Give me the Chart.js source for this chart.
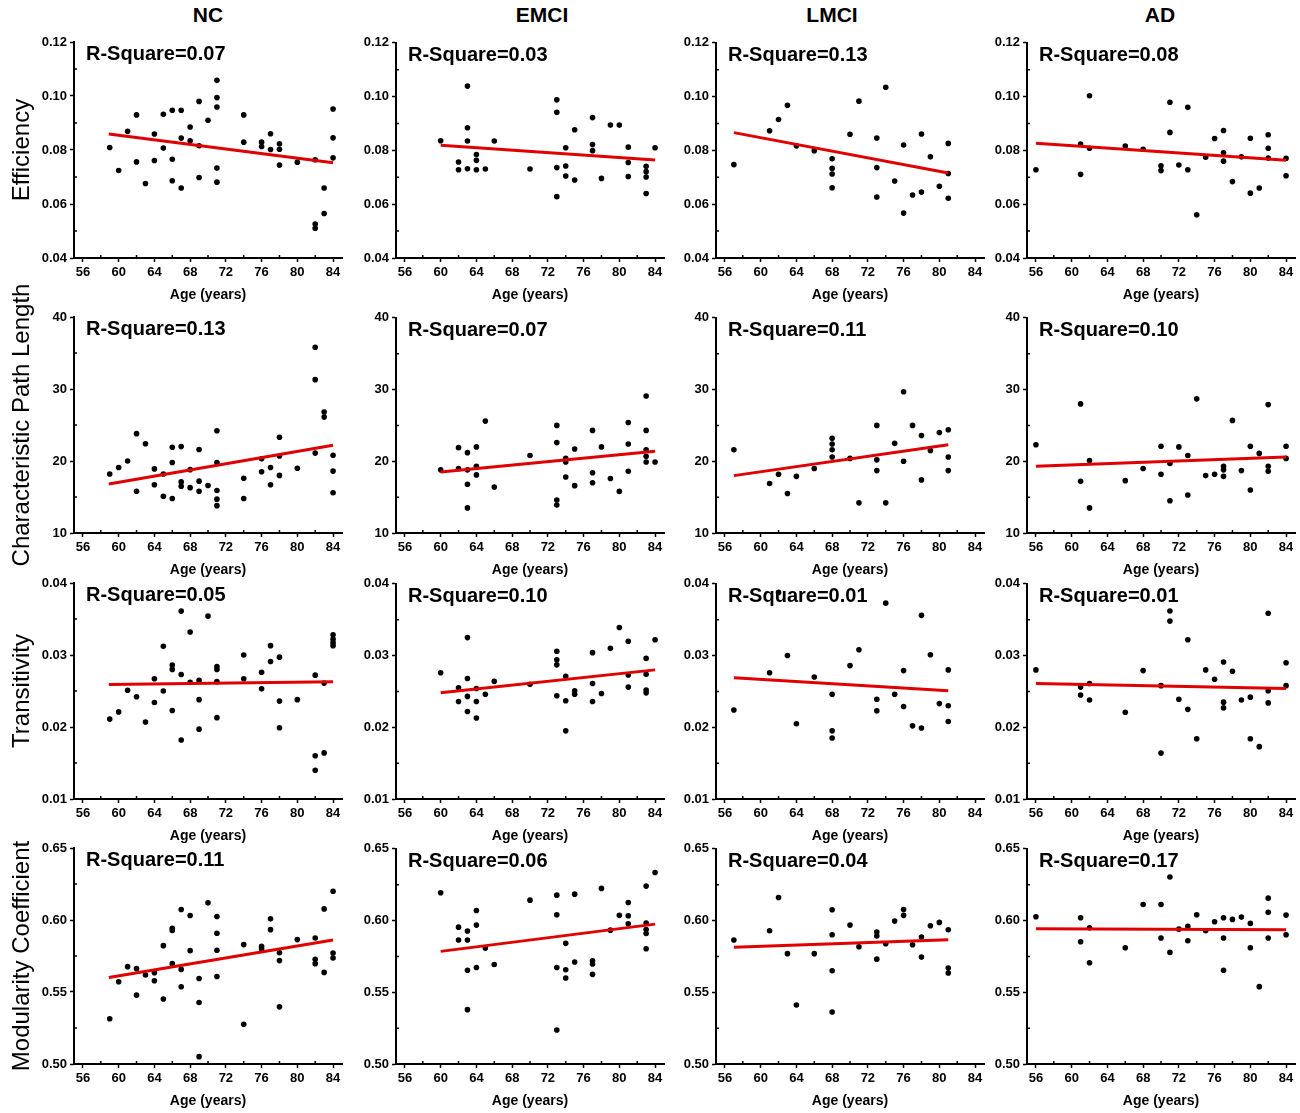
<!DOCTYPE html>
<html>
<head>
<meta charset="utf-8">
<script src="https://cdn.jsdelivr.net/npm/chart.js@4.4.1/dist/chart.umd.min.js"></script>
<style>
  body { margin: 0; background: #fff; }
  #page { position: relative; width: 1300px; height: 1113px; overflow: hidden; }
  #page canvas { position: absolute; }
  .col-title { position: absolute; top: 3px; width: 120px; margin-left: -60px; text-align: center;
    font: bold 21px "Liberation Sans", Arial, sans-serif; line-height: 24px; color: #000; }
</style>
</head>
<body>
<div id="page"></div>
<script>
const groups = ["NC", "EMCI", "LMCI", "AD"];
const metrics = ["Efficiency", "Characteristic Path Length", "Transitivity", "Modularity Coefficient"];
const ageTicks = [56, 60, 64, 68, 72, 76, 80, 84];
const ageMinor = [58, 62, 66, 70, 74, 78, 82];

const effTicks = [0.04, 0.06, 0.08, 0.10, 0.12];
const cplTicks = [10, 20, 30, 40];
const transTicks = [0.01, 0.02, 0.03, 0.04];
const modTicks = [0.50, 0.55, 0.60, 0.65];

const effR2 = [0.07, 0.03, 0.13, 0.08];
const cplR2 = [0.13, 0.07, 0.11, 0.10];
const transR2 = [0.05, 0.10, 0.01, 0.01];
const modR2 = [0.11, 0.06, 0.04, 0.17];

// [age, value] per panel
const ncEff = [[59,.0809],[60,.0724],[61,.0869],[62,.0930],[62,.0756],[63,.0676],[64,.0859],[64,.0761],[65,.0932],[65,.0807],[66,.0947],[66,.0766],[66,.0686],[67,.0947],[67,.0844],[67,.0659],[68,.0885],[68,.0834],[69,.0980],[69,.0816],[69,.0698],[70,.0910],[71,.1058],[71,.0994],[71,.0959],[71,.0733],[71,.0681],[74,.0930],[74,.0829],[76,.0829],[76,.0813],[77,.0860],[77,.0802],[78,.0823],[78,.0803],[78,.0744],[80,.0755],[82,.0764],[82,.0526],[82,.0510],[83,.0659],[83,.0565],[84,.0952],[84,.0845],[84,.0771]];
const emciEff = [[60,.0836],[62,.0757],[62,.0728],[63,.1039],[63,.0884],[63,.0835],[63,.0732],[64,.0785],[64,.0763],[64,.0728],[65,.0731],[66,.0835],[70,.0731],[73,.0988],[73,.0942],[73,.0736],[73,.0628],[74,.0810],[74,.0742],[74,.0705],[75,.0877],[75,.0690],[77,.0922],[77,.0822],[77,.0799],[78,.0696],[79,.0894],[80,.0894],[81,.0812],[81,.0755],[81,.0703],[83,.0741],[83,.0721],[83,.0701],[83,.0640],[84,.0810]];
const lmciEff = [[57,.0747],[61,.0873],[62,.0915],[63,.0968],[64,.0817],[66,.0799],[68,.0769],[68,.0733],[68,.0712],[68,.0661],[70,.0860],[71,.0983],[73,.0846],[73,.0736],[73,.0627],[74,.1035],[75,.0686],[76,.0820],[76,.0567],[77,.0634],[78,.0861],[78,.0645],[79,.0776],[80,.0667],[81,.0826],[81,.0714],[81,.0622]];
const adEff = [[56,.0728],[61,.0824],[61,.0711],[62,.1003],[62,.0808],[66,.0816],[68,.0804],[70,.0743],[70,.0725],[71,.0979],[71,.0867],[72,.0746],[73,.0960],[73,.0728],[74,.0561],[75,.0775],[76,.0844],[77,.0874],[77,.0791],[77,.0760],[78,.0684],[79,.0776],[80,.0845],[80,.0641],[81,.0660],[82,.0858],[82,.0808],[82,.0772],[84,.0771],[84,.0706]];

const ncCpl = [[59,18.2],[60,19.1],[61,20.0],[62,23.8],[62,15.8],[63,22.4],[64,18.9],[64,16.7],[65,18.2],[65,15.1],[66,21.9],[66,19.8],[66,14.8],[67,22.0],[67,17.1],[67,16.5],[68,18.8],[68,16.3],[69,21.6],[69,17.2],[69,15.8],[70,16.6],[71,24.2],[71,19.8],[71,15.9],[71,14.7],[71,13.8],[74,17.6],[74,14.8],[76,20.3],[76,18.5],[77,19.1],[77,16.7],[78,23.3],[78,20.7],[78,18.0],[80,19.0],[82,35.8],[82,31.3],[82,21.1],[83,26.8],[83,26.1],[84,20.8],[84,18.6],[84,15.6]];
const emciCpl = [[60,18.8],[62,21.9],[62,19.0],[63,21.2],[63,18.8],[63,16.8],[63,13.5],[64,22.0],[64,19.3],[64,18.1],[65,25.6],[66,16.4],[70,20.8],[73,25.0],[73,22.6],[73,14.6],[73,13.9],[74,20.4],[74,19.9],[74,17.8],[75,21.7],[75,16.6],[77,24.3],[77,18.4],[77,17.0],[78,22.0],[79,17.6],[80,15.8],[81,25.4],[81,22.4],[81,18.6],[83,29.1],[83,24.3],[83,21.6],[83,20.7],[83,19.9],[84,19.9]];
const lmciCpl = [[57,21.6],[61,16.9],[62,18.2],[63,15.5],[64,17.9],[66,19.0],[68,23.2],[68,22.4],[68,21.6],[68,20.6],[70,20.4],[71,14.2],[73,25.0],[73,20.2],[73,18.7],[74,14.2],[75,22.5],[76,29.7],[76,20.0],[77,25.0],[78,23.6],[78,17.4],[79,21.5],[80,24.0],[81,24.4],[81,20.6],[81,18.7]];
const adCpl = [[56,22.3],[61,28.0],[61,17.2],[62,20.1],[62,13.5],[66,17.3],[68,19.0],[70,22.1],[70,18.2],[71,19.7],[71,14.5],[72,22.0],[73,20.8],[73,15.3],[74,28.7],[75,18.0],[76,18.2],[77,19.3],[77,18.8],[77,17.9],[78,25.7],[79,18.7],[80,22.1],[80,16.0],[81,21.1],[82,27.9],[82,19.3],[82,18.6],[84,22.1],[84,20.4]];

const ncTrans = [[59,.0211],[60,.0221],[61,.0251],[62,.0242],[63,.0207],[64,.0267],[64,.0234],[65,.0312],[65,.0250],[66,.0286],[66,.0280],[66,.0223],[67,.0361],[67,.0273],[67,.0182],[68,.0332],[68,.0262],[69,.0265],[69,.0238],[69,.0197],[70,.0354],[71,.0284],[71,.0280],[71,.0263],[71,.0213],[74,.0300],[74,.0267],[76,.0276],[76,.0253],[77,.0313],[77,.0291],[78,.0297],[78,.0236],[78,.0199],[80,.0238],[82,.0272],[82,.0160],[82,.0140],[83,.0261],[83,.0164],[84,.0328],[84,.0322],[84,.0317],[84,.0313]];
const emciTrans = [[60,.0276],[62,.0255],[62,.0236],[63,.0325],[63,.0268],[63,.0243],[63,.0222],[64,.0254],[64,.0236],[64,.0213],[65,.0246],[66,.0264],[70,.0260],[73,.0306],[73,.0294],[73,.0287],[73,.0244],[74,.0271],[74,.0237],[74,.0195],[75,.0251],[75,.0246],[77,.0304],[77,.0261],[77,.0236],[78,.0247],[79,.0310],[80,.0339],[81,.0320],[81,.0273],[81,.0256],[83,.0296],[83,.0274],[83,.0252],[83,.0248],[84,.0322]];
const lmciTrans = [[57,.0224],[61,.0276],[62,.0388],[63,.0300],[64,.0205],[66,.0270],[68,.0246],[68,.0195],[68,.0185],[70,.0286],[71,.0308],[73,.0239],[73,.0223],[74,.0373],[75,.0246],[76,.0279],[76,.0229],[77,.0202],[78,.0356],[78,.0199],[79,.0301],[80,.0233],[81,.0280],[81,.0230],[81,.0208]];
const adTrans = [[56,.0280],[61,.0256],[61,.0245],[62,.0261],[62,.0238],[66,.0221],[68,.0279],[70,.0258],[70,.0164],[71,.0362],[71,.0348],[72,.0239],[73,.0322],[73,.0225],[74,.0184],[75,.0280],[76,.0267],[77,.0291],[77,.0235],[77,.0227],[78,.0278],[79,.0238],[80,.0242],[80,.0184],[81,.0173],[82,.0359],[82,.0251],[82,.0234],[84,.0290],[84,.0258]];

const ncMod = [[59,.5314],[60,.5571],[61,.5676],[62,.5662],[62,.5478],[63,.5618],[64,.5634],[64,.5578],[65,.5822],[65,.5451],[66,.5943],[66,.5927],[66,.5697],[67,.6073],[67,.5657],[67,.5536],[68,.6031],[68,.5787],[69,.5594],[69,.5427],[69,.5051],[70,.6119],[71,.6024],[71,.5908],[71,.5790],[71,.5608],[74,.5829],[74,.5276],[76,.5817],[76,.5799],[77,.6008],[77,.5933],[78,.5773],[78,.5718],[78,.5397],[80,.5864],[82,.5875],[82,.5727],[82,.5697],[83,.6077],[83,.5636],[84,.6200],[84,.5771],[84,.5736]];
const emciMod = [[60,.6194],[62,.5954],[62,.5864],[63,.5927],[63,.5864],[63,.5653],[63,.5379],[64,.6070],[64,.5968],[64,.5673],[65,.5808],[66,.5694],[70,.6142],[73,.6177],[73,.6040],[73,.5673],[73,.5237],[74,.5841],[74,.5657],[74,.5599],[75,.6184],[75,.5711],[77,.5720],[77,.5697],[77,.5625],[78,.6224],[79,.5933],[80,.6036],[81,.6126],[81,.6033],[81,.5978],[83,.6240],[83,.5982],[83,.5938],[83,.5910],[83,.5803],[84,.6335]];
const lmciMod = [[57,.5864],[61,.5929],[62,.6161],[63,.5769],[64,.5411],[66,.5769],[68,.6075],[68,.5901],[68,.5650],[68,.5362],[70,.5968],[71,.5817],[73,.5920],[73,.5892],[73,.5731],[74,.5838],[75,.5996],[76,.6077],[76,.6036],[77,.5831],[78,.5885],[78,.5745],[79,.5964],[80,.5987],[81,.5936],[81,.5669],[81,.5634]];
const adMod = [[56,.6026],[61,.6019],[61,.5852],[62,.5950],[62,.5706],[66,.5810],[68,.6112],[70,.6112],[70,.5878],[71,.6303],[71,.5778],[72,.5940],[73,.5959],[73,.5859],[74,.6040],[75,.5929],[76,.5992],[77,.6019],[77,.5878],[77,.5653],[78,.6008],[79,.6024],[80,.5980],[80,.5810],[81,.5539],[82,.6156],[82,.6057],[82,.5878],[84,.6038],[84,.5901]];

// fitted line end points
const ncEffFit = [[58.9,.0859],[84,.0753]];
const emciEffFit = [[60,.0819],[84,.0764]];
const lmciEffFit = [[57,.0866],[81,.0716]];
const adEffFit = [[56,.0827],[84,.0763]];
const ncCplFit = [[58.9,16.8],[84,22.2]];
const emciCplFit = [[60,18.5],[84,21.4]];
const lmciCplFit = [[57,18.0],[81,22.3]];
const adCplFit = [[56,19.3],[84,20.6]];
const ncTransFit = [[58.9,.0259],[84,.0263]];
const emciTransFit = [[60,.0248],[84,.0280]];
const lmciTransFit = [[57,.0269],[81,.0251]];
const adTransFit = [[56,.0261],[84,.0254]];
const ncModFit = [[58.9,.5601],[84,.5861]];
const emciModFit = [[60,.5785],[84,.5975]];
const lmciModFit = [[57,.5813],[81,.5866]];
const adModFit = [[56,.5943],[84,.5936]];

const rows = [
  { ticks: effTicks, dec: 2, r2: effR2, pts: [ncEff, emciEff, lmciEff, adEff], fit: [ncEffFit, emciEffFit, lmciEffFit, adEffFit] },
  { ticks: cplTicks, dec: 0, r2: cplR2, pts: [ncCpl, emciCpl, lmciCpl, adCpl], fit: [ncCplFit, emciCplFit, lmciCplFit, adCplFit] },
  { ticks: transTicks, dec: 2, r2: transR2, pts: [ncTrans, emciTrans, lmciTrans, adTrans], fit: [ncTransFit, emciTransFit, lmciTransFit, adTransFit] },
  { ticks: modTicks, dec: 2, r2: modR2, pts: [ncMod, emciMod, lmciMod, adMod], fit: [ncModFit, emciModFit, lmciModFit, adModFit] },
];

const FONT = '"Liberation Sans", Arial, sans-serif';
Chart.defaults.font.family = FONT;
Chart.defaults.color = "#000";

const colAxisX = [74, 396, 716, 1027];
const rowTop = [42, 317, 583, 848];
const plotW = 268, plotH = 216, padRight = 8, xH = 48;

// minor ticks point inward, R-Square label in the top-left corner
const extras = {
  id: "extras",
  afterDraw(chart, args, o) {
    const { ctx, chartArea: a, scales: { x, y } } = chart;
    ctx.save();
    ctx.strokeStyle = "#000";
    ctx.lineWidth = 1.5;
    ctx.beginPath();
    o.xMinor.forEach((v) => {
      const px = x.getPixelForValue(v);
      ctx.moveTo(px, a.bottom);
      ctx.lineTo(px, a.bottom - 3);
    });
    o.yMinor.forEach((v) => {
      const py = y.getPixelForValue(v);
      ctx.moveTo(a.left, py);
      ctx.lineTo(a.left + 3, py);
    });
    ctx.stroke();
    ctx.fillStyle = "#000";
    ctx.font = "bold 20px " + FONT;
    ctx.textBaseline = "alphabetic";
    ctx.fillText("R-Square=" + o.r2.toFixed(2), a.left + 12, a.top + 18);
    ctx.restore();
  },
};

const page = document.getElementById("page");

groups.forEach((g, c) => {
  const t = document.createElement("div");
  t.className = "col-title";
  t.textContent = g;
  t.style.left = [208, 542, 832, 1160][c] + "px";
  page.appendChild(t);
});

rows.forEach((row, r) => {
  const yMinor = row.ticks.slice(1).map((v, i) => (v + row.ticks[i]) / 2);
  groups.forEach((g, c) => {
    const yW = c === 0 ? 74 : 50;
    const padTop = c === 0 ? 40 : 10; // room for the long rotated y title
    const cv = document.createElement("canvas");
    cv.width = yW + plotW + padRight;
    cv.height = padTop + plotH + xH;
    cv.style.left = colAxisX[c] - yW + "px";
    cv.style.top = rowTop[r] - padTop + "px";
    page.appendChild(cv);

    new Chart(cv, {
      type: "scatter",
      data: {
        datasets: [
          {
            type: "line",
            data: row.fit[c].map(([x, y]) => ({ x, y })),
            borderColor: "rgb(225,0,0)",
            borderWidth: 3,
            pointRadius: 0,
            fill: false,
          },
          {
            data: row.pts[c].map(([x, y]) => ({ x, y })),
            backgroundColor: "#000",
            borderWidth: 0,
            pointRadius: 2.8,
          },
        ],
      },
      options: {
        responsive: false,
        animation: false,
        devicePixelRatio: 1,
        layout: { autoPadding: false, padding: { top: padTop, right: padRight, left: 0, bottom: 0 } },
        plugins: {
          legend: { display: false },
          tooltip: { enabled: false },
          extras: { xMinor: ageMinor, yMinor, r2: row.r2[c] },
        },
        scales: {
          x: {
            type: "linear",
            min: 55,
            max: 85,
            afterBuildTicks: (s) => { s.ticks = ageTicks.map((v) => ({ value: v })); },
            afterFit: (s) => { s.height = xH; },
            ticks: { autoSkip: false, maxRotation: 0, padding: 3, font: { size: 13, weight: "bold" } },
            grid: { drawOnChartArea: false, drawTicks: true, tickLength: 4, tickWidth: 1.5, tickColor: "#000" },
            border: { display: true, color: "#000", width: 2 },
            title: { display: true, text: "Age (years)", font: { size: 14, weight: "bold" }, padding: { top: 0, bottom: 2 } },
          },
          y: {
            type: "linear",
            min: row.ticks[0],
            max: row.ticks[row.ticks.length - 1],
            afterBuildTicks: (s) => { s.ticks = row.ticks.map((v) => ({ value: v })); },
            afterFit: (s) => { s.width = yW; },
            ticks: { autoSkip: false, padding: 3, font: { size: 13, weight: "bold" }, callback: (v) => Number(v).toFixed(row.dec) },
            grid: { drawOnChartArea: false, drawTicks: true, tickLength: 4, tickWidth: 1.5, tickColor: "#000" },
            border: { display: true, color: "#000", width: 2 },
            title: { display: c === 0, text: metrics[r], font: { size: 24, weight: "normal" }, padding: { top: 8, bottom: 0 } },
          },
        },
      },
      plugins: [extras],
    });
  });
});
</script>
</body>
</html>
